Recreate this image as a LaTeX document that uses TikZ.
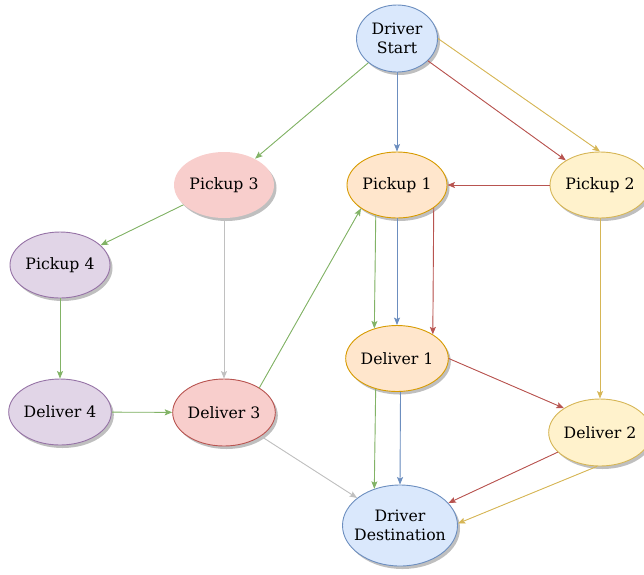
\documentclass[tikz,border=0pt]{standalone}
\usepackage{fontspec}
\setmainfont{DejaVu Serif}
\usetikzlibrary{shapes.geometric,shadows,arrows.meta}
\definecolor{bfill}{HTML}{DAE8FC}\definecolor{bline}{HTML}{6C8EBF}
\definecolor{ofill}{HTML}{FFE6CC}\definecolor{oline}{HTML}{D79B00}
\definecolor{yfill}{HTML}{FFF2CC}\definecolor{yline}{HTML}{D6B656}
\definecolor{rfill}{HTML}{F8CECC}\definecolor{rline}{HTML}{B85450}
\definecolor{pfill}{HTML}{E1D5E7}\definecolor{pline}{HTML}{9673A6}
\definecolor{gline}{HTML}{82B366}\definecolor{grayline}{HTML}{C0C0C0}
\tikzset{
  ell/.style={ellipse, inner sep=0pt, minimum width=100pt, minimum height=66pt,
    line width=0.9pt, align=center, font=\fontsize{15.7}{18.5}\selectfont,
    drop shadow={shadow xshift=2.5pt, shadow yshift=-3pt, fill=black, opacity=0.25}},
  blueN/.style={ell, fill=bfill, draw=bline},
  orangeN/.style={ell, fill=ofill, draw=oline},
  yellowN/.style={ell, fill=yfill, draw=yline},
  redN/.style={ell, fill=rfill, draw=rline},
  pinkN/.style={ell, fill=rfill, draw=none},
  purpleN/.style={ell, fill=pfill, draw=pline},
  edge/.style={line width=0.9pt, -{Stealth[length=7.5pt,width=6pt,inset=1.5pt]}},
  eg/.style={edge, draw=gline, fill=gline},
  eb/.style={edge, draw=bline, fill=bline},
  er/.style={edge, draw=rline, fill=rline},
  ey/.style={edge, draw=yline, fill=yline},
  egr/.style={edge, draw=grayline, fill=grayline},
}
\begin{document}
\begin{tikzpicture}[x=1pt, y=-1pt]
\useasboundingbox (0,0) rectangle (644,574);
\node[blueN, minimum width=81pt, minimum height=67pt] (ds) at (397,38.5) {Driver\\Start};
\node[pinkN] (p3) at (224,185) {Pickup 3};
\node[orangeN] (p1) at (397,185) {Pickup 1};
\node[yellowN] (p2) at (600,185) {Pickup 2};
\node[purpleN] (p4) at (60,265) {Pickup 4};
\node[purpleN] (d4) at (60,412) {Deliver 4};
\node[redN, minimum height=67pt] (d3) at (224,412.5) {Deliver 3};
\node[orangeN] (d1) at (397,358.5) {Deliver 1};
\node[yellowN, minimum height=67pt] (d2) at (600,432.5) {Deliver 2};
\node[blueN, inner xsep=-12pt, minimum width=115pt, minimum height=81pt] (dd) at (400,525.5) {Driver\\Destination};

\draw[eg] (ds) -- (p3);
\draw[eb] (ds) -- (p1);
\draw[er] (ds) -- (p2);
\draw[ey] (ds.east) -- (p2.north);
\draw[er] (p2) -- (p1);
\draw[eg] (p3) -- (p4);
\draw[egr] (p3) -- (d3);
\draw[eg] (p4) -- (d4);
\draw[eg] (d4) -- (d3);
\draw[eg] (d3.35) -- (p1.213);
\draw[egr] (d3) -- (dd);
\draw[eg] (p1.235) -- (d1.127);
\draw[eb] (p1) -- (d1);
\draw[er] (p1.-32.5) -- (d1.34);
\draw[ey] (p2) -- (d2);
\draw[er] (d1.east) -- (d2.146);
\draw[eg] (d1.235) -- (dd.125);
\draw[eb] (d1.-84) -- (dd.north);
\draw[er] (d2) -- (dd);
\draw[ey] (d2.265) -- (dd.2);
\end{tikzpicture}
\end{document}
